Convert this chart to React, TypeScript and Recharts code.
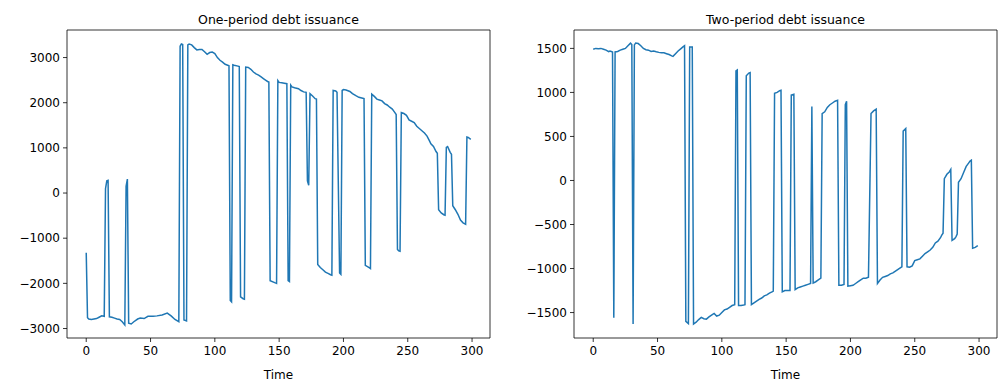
import { LineChart, Line, XAxis, YAxis, ReferenceArea } from "recharts";

// one-period debt: time points and values
const oneTime = [
  0, 1, 2, 4, 6, 8, 10, 12, 14, 15, 16, 17, 18, 20, 22, 24, 26, 28, 30, 31, 32, 33, 35, 37, 40, 42, 45, 48, 52, 55,
  59, 63, 66, 69, 72, 73, 74, 75, 76, 78, 79, 80, 82, 84, 86, 88, 90, 92, 94, 96, 98, 100, 102, 104, 106, 108, 110,
  111, 112, 113, 114, 115, 118, 119, 120, 122, 123, 124, 126, 128, 130, 132, 134, 136, 138, 140, 141, 142, 143, 147,
  148, 149, 150, 152, 154, 156, 157, 158, 159, 160, 162, 165, 167, 169, 171, 172, 173, 174, 176, 178, 179, 180, 182,
  184, 186, 188, 190, 191, 192, 194, 195, 197, 198, 199, 200, 202, 205, 207, 210, 212, 215, 216, 217, 220, 221, 222,
  224, 226, 228, 230, 232, 234, 236, 238, 240, 241, 242, 243, 244, 245, 247, 249, 251, 253, 255, 257, 259, 261, 263,
  265, 267, 268, 270, 272, 273, 274, 276, 278, 279, 280, 281, 283, 284, 285, 287, 289, 291, 293, 295, 296, 297, 298,
  299,
];
const oneDebt = [
  -1320, -2760, -2790, -2800, -2790, -2780, -2750, -2720, -2730, 100, 270, 280, -2740, -2750, -2770, -2790, -2800,
  -2850, -2920, 150, 310, -2880, -2900, -2850, -2790, -2770, -2780, -2730, -2730, -2720, -2700, -2660, -2720, -2800,
  -2850, 3250, 3300, 3290, -2810, -2830, 3280, 3300, 3280, 3220, 3170, 3180, 3180, 3130, 3070, 3110, 3120, 3090, 3000,
  2940, 2900, 2850, 2830, 2820, -2380, -2410, 2840, 2830, 2810, 2800, -2300, -2340, -2350, 2790, 2780, 2740, 2680,
  2640, 2610, 2570, 2530, 2490, 2470, 2460, -1940, -1990, -2000, 2490, 2450, 2440, 2430, 2420, -1940, -1960, 2390,
  2350, 2330, 2310, 2270, 2240, 2230, 270, 170, 2200, 2150, 2090, 2080, -1580, -1650, -1700, -1750, -1780, -1810,
  -1820, 2270, 2260, 2230, -1770, -1800, 2270, 2290, 2280, 2250, 2200, 2150, 2120, 2100, 2090, -1600, -1650, -1670,
  2190, 2140, 2080, 2060, 2040, 1980, 1950, 1900, 1860, 1780, 1740, -1250, -1280, -1290, 1780, 1760, 1720, 1620,
  1590, 1560, 1480, 1430, 1380, 1330, 1260, 1150, 1090, 1030, 920, 880, -370, -440, -480, -490, 1010, 1030, 900, 860,
  -280, -370, -470, -600, -660, -690, 1240, 1230, 1210, 1190,
];

// two-period debt: time points and values
const twoTime = [
  0, 2, 4, 6, 8, 10, 12, 13, 14, 15, 16, 17, 19, 21, 23, 25, 27, 29, 30, 31, 32, 33, 35, 37, 39, 41, 43, 45, 47, 49,
  51, 53, 55, 57, 59, 61, 62, 64, 66, 68, 70, 71, 72, 74, 75, 77, 78, 80, 82, 84, 86, 88, 90, 92, 94, 96, 98, 100,
  102, 104, 106, 108, 110, 111, 112, 113, 115, 117, 118, 119, 121, 122, 123, 125, 127, 129, 131, 133, 135, 137, 139,
  140, 141, 143, 145, 146, 147, 149, 151, 153, 154, 156, 157, 159, 161, 163, 165, 167, 169, 170, 171, 173, 175, 177,
  178, 180, 182, 184, 186, 188, 190, 191, 193, 195, 196, 197, 198, 200, 202, 204, 206, 208, 210, 212, 214, 216, 218,
  220, 221, 223, 225, 227, 229, 231, 233, 235, 237, 239, 240, 241, 243, 244, 246, 248, 250, 252, 254, 256, 258, 260,
  262, 264, 266, 268, 270, 271, 272, 273, 275, 277, 278, 279, 281, 282, 283, 284, 286, 288, 290, 292, 293, 294, 295,
  297, 299,
];
const twoDebt = [
  1490, 1500, 1495, 1500, 1490, 1480, 1462, 1470, 1465, 1460, -1560, 1460, 1465, 1480, 1490, 1500, 1530, 1560, 1545,
  -1630, 1540, 1560, 1555, 1530, 1500, 1485, 1480, 1465, 1470, 1462, 1455, 1450, 1450, 1440, 1430, 1415, 1410, 1440,
  1470, 1495, 1520, 1530, -1600, -1625, 1515, 1515, -1630, -1610, -1580, -1555, -1570, -1575, -1550, -1530, -1510,
  -1540, -1530, -1500, -1470, -1460, -1440, -1420, -1410, 1245, 1255, -1420, -1420, -1415, -1410, 1190, 1220, 1225,
  -1410, -1390, -1370, -1350, -1335, -1310, -1300, -1280, -1265, -1255, 990, 1000, 1020, 1025, -1265, -1250, -1250,
  -1250, 970, 980, -1240, -1220, -1210, -1200, -1190, -1180, -1170, 840, -1165, -1150, -1130, -1110, 760, 780, 830,
  860, 880, 900, 910, -1190, -1190, -1180, 860, 900, -1200, -1195, -1190, -1170, -1150, -1130, -1110, -1110, -1100,
  760, 790, 810, -1170, -1130, -1100, -1090, -1080, -1060, -1050, -1030, -1010, -990, -980, 560, 590, -980, -985,
  -970, -910, -900, -890, -860, -830, -810, -790, -760, -710, -690, -650, -620, -600, 20, 70, 100, 125, -680, -660,
  -640, -610, -20, 20, 90, 160, 200, 220, 230, -770, -760, -740,
];

const timeTicks = [0, 50, 100, 150, 200, 250, 300];
const oneTicks = [-3000, -2000, -1000, 0, 1000, 2000, 3000];
const twoTicks = [-1500, -1000, -500, 0, 500, 1000, 1500];

const oneData = oneTime.map((t, i) => ({ t, v: oneDebt[i] }));
const twoData = twoTime.map((t, i) => ({ t, v: twoDebt[i] }));

const font = "'DejaVu Sans', sans-serif";
const tickStyle = { fontSize: 12, fill: "#000", fontFamily: font };
const minus = (v: number) => String(v).replace("-", "\u2212");
const xDomain: [number, number] = [-14.95, 313.95];

function Panel({
  data,
  title,
  ticks,
  domain,
  left,
}: {
  data: { t: number; v: number }[];
  title: string;
  ticks: number[];
  domain: [number, number];
  left: number;
}) {
  return (
    <div style={{ position: "absolute", left, top: 0, width: 500, height: 391 }}>
      <div
        style={{
          position: "absolute",
          left: 67,
          width: 423,
          top: 12,
          textAlign: "center",
          fontFamily: font,
          fontSize: 12.5,
          color: "#000",
        }}
      >
        {title}
      </div>
      <LineChart width={500} height={391} data={data} margin={{ top: 30, right: 10, bottom: 12, left: 7 }}>
        <XAxis
          dataKey="t"
          type="number"
          domain={xDomain}
          ticks={timeTicks}
          allowDataOverflow
          axisLine={false}
          tickLine={{ stroke: "#000", strokeWidth: 0.8 }}
          tickSize={4}
          tickMargin={4}
          tick={tickStyle}
          height={41}
          label={{ value: "Time", position: "insideBottom", offset: 0, fill: "#000", fontSize: 12, fontFamily: font }}
        />
        <YAxis
          type="number"
          domain={domain}
          ticks={ticks}
          allowDataOverflow
          axisLine={false}
          tickLine={{ stroke: "#000", strokeWidth: 0.8 }}
          tickSize={4}
          tickMargin={3}
          tick={tickStyle}
          tickFormatter={minus}
          width={60}
        />
        <ReferenceArea
          x1={xDomain[0]}
          x2={xDomain[1]}
          y1={domain[0]}
          y2={domain[1]}
          fill="none"
          stroke="#000"
          strokeWidth={0.8}
        />
        <Line
          type="linear"
          dataKey="v"
          stroke="#1f77b4"
          strokeWidth={1.5}
          dot={false}
          isAnimationActive={false}
        />
      </LineChart>
    </div>
  );
}

export default function App() {
  return (
    <div style={{ position: "absolute", left: 0, top: 0, width: 1006, height: 391, background: "#fff" }}>
      <Panel data={oneData} title="One-period debt issuance" ticks={oneTicks} domain={[-3210, 3610]} left={0} />
      <Panel data={twoData} title="Two-period debt issuance" ticks={twoTicks} domain={[-1789, 1709]} left={507} />
    </div>
  );
}
